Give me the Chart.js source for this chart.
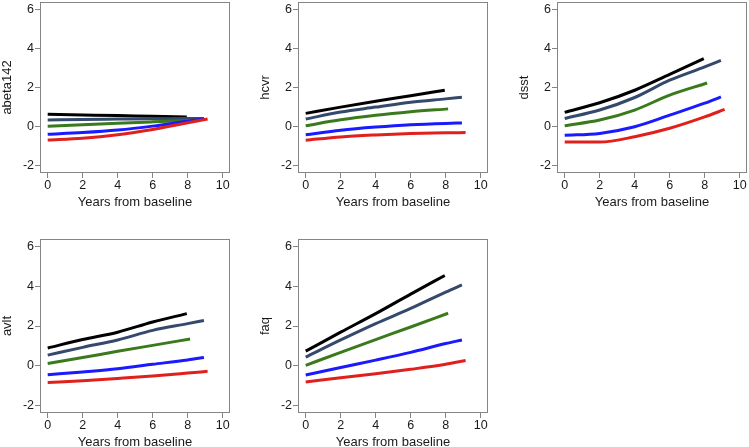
<!DOCTYPE html>
<html>
<head>
<meta charset="utf-8">
<script src="https://cdn.jsdelivr.net/npm/chart.js@4"></script>
<style>
  body { margin:0; background:#fff; width:749px; height:447px; overflow:hidden; position:relative; }
  canvas { position:absolute; }
</style>
</head>
<body>
<canvas id="p1" width="232" height="210" style="left:0px;top:0px"></canvas>
<canvas id="p2" width="232" height="210" style="left:258px;top:0px"></canvas>
<canvas id="p3" width="232" height="210" style="left:517px;top:0px"></canvas>
<canvas id="p4" width="232" height="212" style="left:0px;top:238px"></canvas>
<canvas id="p5" width="232" height="212" style="left:258px;top:238px"></canvas>
<script>
const xTicks = [0, 2, 4, 6, 8, 10];
const yTicks = [-2, 0, 2, 4, 6];
const panelNames = ['abeta142', 'hcvr', 'dsst', 'avlt', 'faq'];

// years where each group's curve is sampled
const yearsBlack = [0, 2, 4, 6, 7.95];
const yearsNavy  = [0, 2, 4, 6, 8, 8.93];
const yearsGreen = [0, 2, 4, 6, 8.14];
const yearsBlue  = [0, 2, 4, 6, 8, 8.93];
const yearsRed   = [0, 2, 4, 6, 8, 9.14];

// values per panel: black, navy, green, blue, red
const abeta142 = [
  [0.63, 0.6, 0.57, 0.53, 0.5],
  [0.34, 0.37, 0.39, 0.41, 0.42, 0.42],
  [0.02, 0.1, 0.18, 0.25, 0.32],
  [-0.39, -0.3, -0.17, 0.03, 0.28, 0.39],
  [-0.68, -0.59, -0.41, -0.14, 0.2, 0.39]
];
const hcvr = [
  [0.68, 1.0, 1.3, 1.58, 1.86],
  [0.39, 0.75, 1.0, 1.25, 1.42, 1.5],
  [0.05, 0.35, 0.58, 0.76, 0.91],
  [-0.41, -0.18, -0.02, 0.1, 0.17, 0.19],
  [-0.69, -0.52, -0.42, -0.35, -0.31, -0.3]
];
const dsst = [
  [0.73, 1.22, 1.86, 2.67, 3.47],
  [0.42, 0.85, 1.49, 2.37, 3.05, 3.38],
  [0.05, 0.34, 0.85, 1.61, 2.23],
  [-0.44, -0.34, 0.0, 0.59, 1.2, 1.52],
  [-0.78, -0.78, -0.51, -0.08, 0.5, 0.88]
];
const avlt = [
  [0.9, 1.32, 1.69, 2.2, 2.62],
  [0.54, 0.93, 1.3, 1.78, 2.12, 2.28],
  [0.12, 0.42, 0.73, 1.03, 1.35],
  [-0.44, -0.3, -0.14, 0.08, 0.3, 0.42],
  [-0.83, -0.74, -0.63, -0.51, -0.36, -0.27]
];
const faq = [
  [0.74, 1.69, 2.62, 3.6, 4.53],
  [0.44, 1.3, 2.12, 2.88, 3.7, 4.06],
  [0.03, 0.68, 1.32, 1.95, 2.64],
  [-0.46, -0.08, 0.29, 0.68, 1.12, 1.3],
  [-0.81, -0.59, -0.39, -0.17, 0.08, 0.27]
];

const panelData = [abeta142, hcvr, dsst, avlt, faq];
const groupYears = [yearsBlack, yearsNavy, yearsGreen, yearsBlue, yearsRed];
const lineColors = ['#000000', '#34496b', '#3a7a1c', '#1a1aff', '#e0201c'];
const frameColor = '#858585';
const textColor = '#1a1a1a';
const fontFam = '"Liberation Sans", Arial, sans-serif';

const frameBox = {
  id: 'frameBox',
  afterDatasetsDraw(chart) {
    const a = chart.chartArea, c = chart.ctx;
    c.save();
    c.strokeStyle = frameColor;
    c.lineWidth = 1;
    c.strokeRect(Math.round(a.left) + 0.5, Math.round(a.top) + 0.5,
      Math.round(a.right - a.left) - 1, Math.round(a.bottom - a.top) - 1);
    c.restore();
  }
};

panelData.forEach((groups, i) => {
  const ctx = document.getElementById('p' + (i + 1));
  const padTop = i < 3 ? 2 : 1;
  new Chart(ctx, {
    type: 'line',
    data: {
      datasets: groups.map((vals, g) => ({
        data: vals.map((v, k) => ({ x: groupYears[g][k], y: v })),
        borderColor: lineColors[g],
        borderWidth: 3,
        pointRadius: 0,
        cubicInterpolationMode: 'monotone',
        fill: false
      })).reverse()
    },
    options: {
      responsive: false,
      animation: false,
      events: [],
      layout: { padding: { left: 0, right: 2, top: padTop, bottom: 0 } },
      plugins: { legend: { display: false }, tooltip: { enabled: false } },
      scales: {
        x: {
          type: 'linear',
          min: -0.44, max: 10.42,
          afterBuildTicks: s => { s.ticks = xTicks.map(v => ({ value: v })); },
          afterFit: s => { s.height = 37; s.paddingLeft = 0; s.paddingRight = 0; },
          grid: { drawOnChartArea: false, drawTicks: true, tickLength: 5, color: frameColor },
          border: { display: false },
          ticks: { color: textColor, font: { family: fontFam, size: 12.5 }, padding: 0, maxRotation: 0 },
          title: { display: true, text: 'Years from baseline', color: textColor,
                   font: { family: fontFam, size: 13 }, padding: { top: 0, bottom: 0 } }
        },
        y: {
          type: 'linear',
          min: -2.36, max: 6.36,
          afterBuildTicks: s => { s.ticks = yTicks.map(v => ({ value: v })); },
          afterFit: s => { s.width = 40; s.paddingTop = 0; s.paddingBottom = 0; },
          grid: { drawOnChartArea: false, drawTicks: true, tickLength: 5, color: frameColor },
          border: { display: false },
          ticks: { color: textColor, font: { family: fontFam, size: 12.5 }, padding: 1 },
          title: { display: true, text: panelNames[i], color: textColor,
                   font: { family: fontFam, size: 13 }, padding: { top: 0, bottom: 2 } }
        }
      }
    },
    plugins: [frameBox]
  });
});
</script>
</body>
</html>
